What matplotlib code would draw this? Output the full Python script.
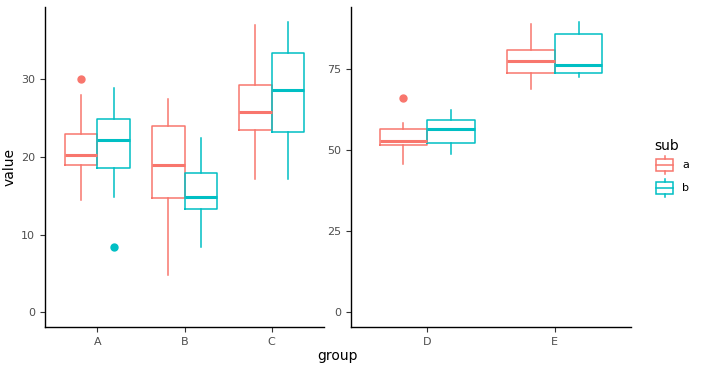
import numpy as np
import matplotlib
matplotlib.use("Agg")
import matplotlib.pyplot as plt
from matplotlib.patches import Rectangle

# box stats: (whislo, q1, med, q3, whishi)
left_groups = ["A", "B", "C"]
left_a = [(14.4, 18.9, 20.2, 22.9, 27.9), (4.8, 14.7, 19.0, 24.0, 27.5), (17.2, 23.4, 25.8, 29.3, 37.0)]
left_b = [(14.8, 18.6, 22.2, 24.9, 28.9), (8.4, 13.3, 14.9, 17.9, 22.4), (17.2, 23.2, 28.6, 33.3, 37.4)]
left_a_out = [[30.0], [], []]
left_b_out = [[8.4], [], []]

right_groups = ["D", "E"]
right_a = [(45.9, 51.5, 52.9, 56.7, 58.4), (68.9, 74.0, 77.7, 81.0, 88.9)]
right_b = [(48.9, 52.3, 56.6, 59.4, 62.4), (72.5, 73.8, 76.3, 85.9, 89.5)]
right_a_out = [[66.1], []]
right_b_out = [[], []]

subs = ["a", "b"]
colors = {"a": "#F8766D", "b": "#00BFC4"}


def make_stats(vals, outs):
    return [dict(whislo=v[0], q1=v[1], med=v[2], q3=v[3], whishi=v[4], fliers=o)
            for v, o in zip(vals, outs)]


def draw_panel(ax, groups, a_vals, b_vals, a_out, b_out, yticks):
    x = np.arange(1, len(groups) + 1)
    for sub, vals, outs, off in [("a", a_vals, a_out, -0.1875), ("b", b_vals, b_out, 0.1875)]:
        c = colors[sub]
        ax.bxp(make_stats(vals, outs), positions=x + off, widths=0.375,
               showcaps=False,
               boxprops=dict(color=c, lw=1.1),
               whiskerprops=dict(color=c, lw=1.1),
               medianprops=dict(color=c, lw=2.2),
               flierprops=dict(marker="o", markerfacecolor=c, markeredgecolor=c,
                               markersize=5))
    ax.set_xlim(0.4, len(groups) + 0.6)
    ax.set_xticks(x)
    ax.set_xticklabels(groups)
    ax.set_yticks(yticks)
    for s in ["top", "right"]:
        ax.spines[s].set_visible(False)
    for s in ["left", "bottom"]:
        ax.spines[s].set_linewidth(1.0)
    ax.tick_params(length=3.5, width=0.8, color="#333333", labelcolor="#4D4D4D",
                   labelsize=8)


fig = plt.figure(figsize=(7.01, 3.71), dpi=100)
W, H = 701, 371
ax1 = fig.add_axes([45 / W, 1 - 327 / H, (324 - 45) / W, (327 - 7) / H])
ax2 = fig.add_axes([351 / W, 1 - 327 / H, (631 - 351) / W, (327 - 7) / H])

draw_panel(ax1, left_groups, left_a, left_b, left_a_out, left_b_out, [0, 10, 20, 30])
ax1.set_ylim(-1.87, 39.27)
draw_panel(ax2, right_groups, right_a, right_b, right_a_out, right_b_out, [0, 25, 50, 75])
ax2.set_ylim(-4.48, 94.2)

fig.text(10 / W, 1 - 167 / H, "value", rotation=90, ha="center", va="center", fontsize=10)
fig.text(338 / W, 1 - 356 / H, "group", ha="center", va="center", fontsize=10)

# legend
fig.text(654 / W, 1 - 146 / H, "sub", ha="left", va="center", fontsize=10)
lax = fig.add_axes([650 / W, 1 - 200 / H, 50 / W, 46 / H])
lax.set_xlim(650, 700)
lax.set_ylim(200, 154)
lax.axis("off")
for i, sub in enumerate(subs):
    c = colors[sub]
    yc = 165 + 23 * i
    lax.add_patch(Rectangle((656, yc - 6), 17, 12, fill=False, ec=c, lw=1.1))
    lax.plot([656, 673], [yc, yc], color=c, lw=1.1)
    lax.plot([664.5, 664.5], [yc - 9, yc - 6], color=c, lw=1.1)
    lax.plot([664.5, 664.5], [yc + 6, yc + 9], color=c, lw=1.1)
    lax.text(682, yc, sub, ha="left", va="center", fontsize=8)

fig.savefig("out.png", dpi=100)
